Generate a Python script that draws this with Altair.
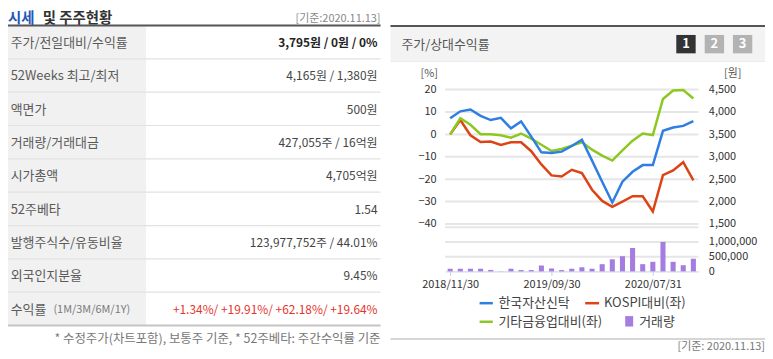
import altair as alt
import pandas as pd

FONT = "Noto Sans CJK KR"
W, H = 762, 344

# ---------------- data ----------------
row_labels = ["주가/전일대비/수익률", "52Weeks 최고/최저", "액면가", "거래량/거래대금", "시가총액",
              "52주베타", "발행주식수/유동비율", "외국인지분율", "수익률"]
row_values = ["3,795원 / 0원 / 0%", "4,165원 / 1,380원", "500원", "427,055주 / 16억원", "4,705억원",
              "1.54", "123,977,752주 / 44.01%", "9.45%", "+1.34%/ +19.91%/ +62.18%/ +19.64%"]

dates = ["2018/11/30", "2018/12/31", "2019/01/31", "2019/02/28", "2019/03/29", "2019/04/30",
         "2019/05/31", "2019/06/28", "2019/07/31", "2019/08/30", "2019/09/30", "2019/10/31",
         "2019/11/29", "2019/12/30", "2020/01/31", "2020/02/28", "2020/03/31", "2020/04/29",
         "2020/05/29", "2020/06/30", "2020/07/31", "2020/08/31", "2020/09/29", "2020/10/30",
         "2020/11/13"]
price = [3860, 4015, 4055, 3915, 3820, 3870, 3635, 3790, 3450, 3100, 3085, 3115, 3240,
         3380, 2915, 2445, 1980, 2445, 2665, 2815, 2815, 3580, 3655, 3690, 3795]
kospi_rel = [0, 6.4, -0.4, -3.4, -3.2, -4.7, -3.5, -3.5, -7.5, -13.4, -18.3, -18.8, -15.8,
             -17.3, -24.7, -29.7, -32.3, -30.0, -27.6, -27.6, -34.4, -18.2, -16.1, -12.4, -20.5]
sector_rel = [0, 7.2, 4.3, 0.1, 0.1, -0.4, -1.5, 0.4, -1.9, -4.6, -7.4, -6.5, -5.0,
              -3.5, -6.8, -9.5, -11.7, -7.1, -2.8, 0.4, -0.3, 15.8, 19.6, 19.8, 16.0]
volume = [90000, 90000, 90000, 90000, 50000, 5000, 90000, 45000, 45000, 200000, 100000, 45000,
          90000, 140000, 90000, 245000, 410000, 515000, 795000, 245000, 325000, 1000000, 325000,
          210000, 430000]

pct_ticks = [-40, -30, -20, -10, 0, 10, 20]
price_ticks = [1500, 2000, 2500, 3000, 3500, 4000, 4500]
vol_ticks = [0, 500000, 1000000]
vol_grid = [500000, 1000000, 1500000]
x_label_dates = ["2018/11/30", "2019/09/30", "2020/07/31"]

series_names = ["한국자산신탁", "KOSPI대비(좌)", "기타금융업대비(좌)", "거래량"]
C_BLUE, C_RED, C_GREEN, C_PURPLE = "#2f7ee3", "#dc4416", "#8dc722", "#a57ce0"

# ---------------- helpers ----------------
one = pd.DataFrame({"k": [0]})


def txt(text, x, y, size=12, color="#444", align="left", weight="normal"):
    return alt.Chart(pd.DataFrame({"t": [text]})).mark_text(
        align=align, baseline="middle", fontSize=size, color=color, fontWeight=weight, font=FONT
    ).encode(x=alt.value(x), y=alt.value(y), text="t:N")


def rule(x1, x2, y1, y2, color, width):
    return alt.Chart(one).mark_rule(color=color, strokeWidth=width).encode(
        x=alt.value(x1), x2=alt.value(x2), y=alt.value(y1), y2=alt.value(y2))


def rect(x1, x2, y1, y2, color):
    return alt.Chart(one).mark_rect(color=color).encode(
        x=alt.value(x1), x2=alt.value(x2), y=alt.value(y1), y2=alt.value(y2))


layers = []

# ---------------- left table ----------------
layers.append(txt("시세", 0, 10, size=14.5, color="#2357b5", weight="bold"))
layers.append(txt("및 주주현황", 35, 10, size=14.5, color="#333", weight="bold"))
layers.append(txt("[기준:2020.11.13]", 375, 9.5, size=11, color="#888", align="right"))
layers.append(rect(0, 139, 17, 318, "#f1f1f1"))

edge_df = pd.DataFrame({"e": list(range(1, 9))})
layers.append(alt.Chart(edge_df).mark_rule(color="#e2e2e2", strokeWidth=1.2).encode(
    y=alt.Y("e:Q", scale=alt.Scale(domain=[0, 9], range=[16.5, 318.5]), axis=None),
    x=alt.value(0), x2=alt.value(375)))
layers.append(rule(0, 375, 16.5, 16.5, "#555", 2))
layers.append(rule(0, 375, 318.5, 318.5, "#c4c4c4", 2))

tbl = pd.DataFrame({"row": list(range(9)), "label": row_labels, "value": row_values})
row_y = alt.Y("row:Q", scale=alt.Scale(domain=[0, 8], range=[34, 302.5]), axis=None)
layers.append(alt.Chart(tbl).mark_text(align="left", baseline="middle", fontSize=13,
                                       color="#5a5a5a", font=FONT).encode(
    x=alt.value(2.7), y=row_y, text="label:N"))
layers.append(alt.Chart(tbl).transform_filter("datum.row == 8").mark_text(
    align="left", baseline="middle", fontSize=11, color="#7a7a7a", font=FONT, dx=43).encode(
    x=alt.value(2.7), y=row_y, text=alt.value("(1M/3M/6M/1Y)")))
layers.append(alt.Chart(tbl).transform_filter("datum.row > 0 && datum.row < 8").mark_text(
    align="right", baseline="middle", fontSize=12, color="#444", font=FONT).encode(
    x=alt.value(372), y=row_y, text="value:N"))
layers.append(alt.Chart(tbl).transform_filter("datum.row == 0").mark_text(
    align="right", baseline="middle", fontSize=12, color="#222", font=FONT, fontWeight="bold").encode(
    x=alt.value(372), y=row_y, text="value:N"))
layers.append(alt.Chart(tbl).transform_filter("datum.row == 8").mark_text(
    align="right", baseline="middle", fontSize=12, color="#e4352d", font=FONT).encode(
    x=alt.value(372), y=row_y, text="value:N"))
layers.append(txt("* 수정주가(차트포함), 보통주 기준, * 52주베타: 주간수익률 기준", 375, 332,
                  size=12.5, color="#777", align="right"))

# ---------------- right panel decorations ----------------
layers.append(rect(385, 762, 18, 52, "#f3f3f3"))
layers.append(rule(385, 762, 17, 17, "#555", 2))
layers.append(rule(385, 762, 52.5, 52.5, "#e6e6e6", 1))
layers.append(txt("주가/상대수익률", 396, 36, size=13, color="#555"))
for lab, x1, col in [("1", 672.7, "#333"), ("2", 701.3, "#b3b3b3"), ("3", 729.7, "#b3b3b3")]:
    layers.append(rect(x1, x1 + 19.5, 26, 44.5, col))
    layers.append(txt(lab, x1 + 9.75, 35.5, size=13, color="white", align="center", weight="bold"))

layers.append(txt("[%]", 424, 65.5, size=11, color="#555", align="center"))
layers.append(txt("[원]", 729.5, 65.5, size=11, color="#555", align="center"))

# ---------------- chart scales ----------------
pct_scale = alt.Scale(domain=[-40, 20], range=[216.3, 81])
price_scale = alt.Scale(domain=[1500, 4500], range=[216.3, 81])
vol_scale = alt.Scale(domain=[0, 1500000], range=[264, 219.5])
x_point = alt.Scale(type="point", domain=dates, range=[440, 695], padding=0.5)
x_band = alt.Scale(type="band", domain=dates, range=[440, 695], paddingInner=0.5, paddingOuter=0.25)

# gridlines
layers.append(alt.Chart(pd.DataFrame({"v": pct_ticks})).mark_rule(color="#e6e6e6", strokeWidth=2).encode(
    y=alt.Y("v:Q", scale=pct_scale, axis=None), x=alt.value(440), x2=alt.value(695)))
layers.append(alt.Chart(pd.DataFrame({"v": vol_grid})).mark_rule(color="#e6e6e6", strokeWidth=2).encode(
    y=alt.Y("v:Q", scale=vol_scale, axis=None), x=alt.value(440), x2=alt.value(695)))

# volume bars
vol_df = pd.DataFrame({"date": dates, "vol": volume})
layers.append(alt.Chart(vol_df).mark_bar(color=C_PURPLE).encode(
    x=alt.X("date:O", scale=x_band, axis=None, sort=None),
    y=alt.Y("vol:Q", scale=vol_scale,
            axis=alt.Axis(orient="right", offset=695 - W, values=vol_ticks, format=",d",
                          grid=False, domain=False, ticks=False, tickSize=0, labelPadding=10,
                          labelFontSize=11, labelColor="#333", labelFont=FONT, title=None))))

# relative lines
rel_df = pd.DataFrame({
    "date": dates * 2,
    "series": [series_names[1]] * len(dates) + [series_names[2]] * len(dates),
    "value": kospi_rel + sector_rel,
})
layers.append(alt.Chart(rel_df).mark_line(strokeWidth=2.5).encode(
    x=alt.X("date:O", scale=x_point, sort=None,
            axis=alt.Axis(orient="bottom", offset=264 - H, values=x_label_dates, labelAngle=0,
                          domainColor="#c6d2e4", tickColor="#c6d2e4", tickSize=4, labelPadding=3,
                          labelFontSize=11, labelColor="#333", labelFont=FONT, title=None, grid=False)),
    y=alt.Y("value:Q", scale=pct_scale,
            axis=alt.Axis(orient="left", offset=-440, values=pct_ticks, format="d", grid=False,
                          domain=False, ticks=False, tickSize=0, labelPadding=9, labelFontSize=11,
                          labelColor="#333", labelFont=FONT, title=None)),
    color=alt.Color("series:N", scale=alt.Scale(domain=series_names[1:3], range=[C_RED, C_GREEN]),
                    legend=None),
))

# price line
price_df = pd.DataFrame({"date": dates, "price": price})
layers.append(alt.Chart(price_df).mark_line(strokeWidth=2.5, color=C_BLUE).encode(
    x=alt.X("date:O", scale=x_point, sort=None, axis=None),
    y=alt.Y("price:Q", scale=price_scale,
            axis=alt.Axis(orient="right", offset=695 - W, values=price_ticks, format=",d",
                          grid=False, domain=False, ticks=False, tickSize=0, labelPadding=10,
                          labelFontSize=11, labelColor="#333", labelFont=FONT, title=None))))

# ---------------- legend ----------------
layers.append(rule(474.7, 488, 296, 296, C_BLUE, 2.5))
layers.append(txt(series_names[0], 493.7, 296, size=13, color="#444"))
layers.append(rule(581, 595, 296, 296, C_RED, 2.5))
layers.append(txt(series_names[1], 600, 296, size=13, color="#444"))
layers.append(rule(474.7, 488, 314.7, 314.7, C_GREEN, 2.5))
layers.append(txt(series_names[2], 493.7, 314.7, size=13, color="#444"))
layers.append(rect(621.3, 629.3, 309, 319.5, C_PURPLE))
layers.append(txt(series_names[3], 635.3, 314.7, size=13, color="#444"))

layers.append(rule(385, 762, 332, 332, "#c8c8c8", 1.5))
layers.append(txt("[기준: 2020.11.13]", 762, 340, size=11, color="#777", align="right"))

chart = alt.layer(*layers).resolve_scale(
    x="independent", y="independent", color="independent"
).properties(
    width=W, height=H, padding=0, autosize=alt.AutoSizeParams(type="none")
).configure_view(stroke=None)

chart.save("out.html", embed_options={"renderer": "svg", "actions": False})
